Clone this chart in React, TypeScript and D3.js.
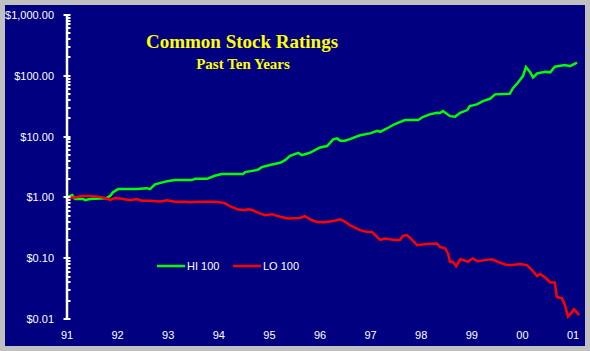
import { useEffect, useRef } from "react";
import * as d3 from "d3";

// HI 100 series (decimal year, value in $)
const HI_YEARS = [
  1991.0, 1991.1, 1991.16, 1991.32, 1991.36, 1991.45, 1991.65, 1991.77, 1991.85, 1991.91,
  1992.01, 1992.38, 1992.58, 1992.64, 1992.74, 1992.98, 1993.13, 1993.47, 1993.53, 1993.77,
  1993.92, 1994.06, 1994.48, 1994.52, 1994.77, 1994.85, 1995.01, 1995.21, 1995.31, 1995.41,
  1995.57, 1995.64, 1995.8, 1995.9, 1996.0, 1996.14, 1996.26, 1996.34, 1996.4, 1996.49,
  1996.59, 1996.79, 1996.99, 1997.13, 1997.19, 1997.32, 1997.48, 1997.68, 1997.94, 1998.04,
  1998.17, 1998.31, 1998.37, 1998.43, 1998.57, 1998.67, 1998.77, 1998.91, 1998.96, 1999.1,
  1999.22, 1999.36, 1999.46, 1999.75, 1999.81, 1999.91, 2000.01, 2000.07, 2000.15, 2000.21,
  2000.29, 2000.45, 2000.55, 2000.64, 2000.84, 2000.94, 2001.08,
];
const HI_VALUES = [
  1.0, 1.09, 0.94, 0.94, 0.9, 0.94, 0.96, 0.97, 1.05, 1.22,
  1.37, 1.38, 1.42, 1.37, 1.64, 1.85, 1.93, 1.93, 2.02, 2.02,
  2.27, 2.42, 2.42, 2.61, 2.84, 3.15, 3.4, 3.71, 4.1, 4.83,
  5.42, 4.96, 5.42, 6.0, 6.64, 6.98, 9.0, 9.34, 8.53, 8.53,
  9.1, 10.5, 11.3, 12.5, 12.0, 13.6, 16.1, 18.7, 18.7, 21.2,
  23.2, 24.6, 24.4, 26.3, 21.7, 21.2, 24.6, 27.3, 31.8, 33.9,
  38.4, 41.9, 49.5, 50.6, 62.1, 76.7, 98.9, 139, 116, 94.2,
  109, 116, 114, 141, 150, 144, 164,
];

// LO 100 series (decimal year, value in $)
const LO_YEARS = [
  1991.0, 1991.16, 1991.3, 1991.45, 1991.65, 1991.79, 1991.85, 1991.95, 1992.09, 1992.25,
  1992.38, 1992.48, 1992.64, 1992.84, 1992.98, 1993.13, 1993.33, 1993.43, 1993.63, 1993.92,
  1994.02, 1994.12, 1994.22, 1994.38, 1994.52, 1994.58, 1994.66, 1994.81, 1994.91, 1995.05,
  1995.21, 1995.37, 1995.6, 1995.7, 1995.84, 1995.96, 1996.1, 1996.26, 1996.4, 1996.49,
  1996.59, 1996.79, 1996.93, 1997.03, 1997.09, 1997.19, 1997.28, 1997.48, 1997.58, 1997.64,
  1997.72, 1997.84, 1997.92, 1998.11, 1998.31, 1998.37, 1998.47, 1998.53, 1998.57, 1998.63,
  1998.69, 1998.77, 1998.87, 1998.92, 1999.02, 1999.12, 1999.26, 1999.4, 1999.56, 1999.7,
  1999.81, 1999.95, 2000.09, 2000.19, 2000.29, 2000.35, 2000.45, 2000.55, 2000.64, 2000.68,
  2000.78, 2000.84, 2000.9, 2000.96, 2001.02, 2001.08, 2001.12,
];
const LO_VALUES = [
  1.0, 1.0, 1.05, 1.05, 1.02, 0.96, 0.9, 0.98, 0.95, 0.9,
  0.94, 0.88, 0.88, 0.86, 0.9, 0.85, 0.85, 0.83, 0.85, 0.85,
  0.83, 0.8, 0.72, 0.63, 0.62, 0.64, 0.62, 0.545, 0.51, 0.53,
  0.48, 0.45, 0.46, 0.49, 0.42, 0.39, 0.39, 0.41, 0.435, 0.4,
  0.35, 0.29, 0.27, 0.27, 0.24, 0.2, 0.21, 0.2, 0.2, 0.233,
  0.24, 0.193, 0.164, 0.171, 0.175, 0.154, 0.145, 0.12, 0.087, 0.087,
  0.074, 0.096, 0.091, 0.087, 0.099, 0.089, 0.093, 0.096, 0.084, 0.077,
  0.077, 0.08, 0.077, 0.064, 0.051, 0.055, 0.048, 0.04, 0.04, 0.023,
  0.022, 0.017, 0.011, 0.0124, 0.0145, 0.0127, 0.0116,
];

const Y_TICKS = [0.01, 0.1, 1, 10, 100, 1000];
const X_TICKS = [1991, 1992, 1993, 1994, 1995, 1996, 1997, 1998, 1999, 2000, 2001];
const X_LABELS = ["91", "92", "93", "94", "95", "96", "97", "98", "99", "00", "01"];

const SERIES = [
  { name: "HI 100", years: HI_YEARS, values: HI_VALUES, color: "#00ff00" },
  { name: "LO 100", years: LO_YEARS, values: LO_VALUES, color: "#ff0000" },
];

const W = 590;
const H = 351;
const FONT = "Arial, 'Liberation Sans', sans-serif";

export default function App() {
  const svgRef = useRef<SVGSVGElement>(null);

  useEffect(() => {
    if (!svgRef.current) return;
    const svg = d3.select(svgRef.current);
    svg.selectAll("*").remove();

    // frame
    svg.append("rect").attr("width", W).attr("height", H).attr("fill", "#c0c0c0");
    svg.append("rect").attr("x", 5).attr("y", 5).attr("width", 580).attr("height", 341).attr("fill", "#000080");

    const x = d3.scaleLinear().domain([1991, 2001]).range([67, 573]);
    const y = d3.scaleLog().domain([0.01, 1000]).range([319, 15]);

    // lines
    SERIES.forEach((s) => {
      const pts = s.years.map((yr, i) => [yr, s.values[i]] as [number, number]);
      const line = d3.line<[number, number]>()
        .x((d) => x(d[0]))
        .y((d) => y(d[1]));
      svg.append("path")
        .datum(pts)
        .attr("d", line)
        .attr("fill", "none")
        .attr("stroke", s.color)
        .attr("stroke-width", 2.5)
        .attr("stroke-linejoin", "miter");
    });

    // y axis
    const axis = svg.append("g");
    axis.append("line")
      .attr("x1", 67).attr("x2", 67)
      .attr("y1", y(1000)).attr("y2", y(0.01))
      .attr("stroke", "#fff").attr("stroke-width", 2.5);

    const minor: number[] = [];
    Y_TICKS.slice(0, -1).forEach((t) => {
      for (let k = 2; k <= 9; k++) minor.push(t * k);
    });
    axis.selectAll("line.minor")
      .data(minor)
      .join("line")
      .attr("class", "minor")
      .attr("x1", 67).attr("x2", 70.5)
      .attr("y1", (d) => Math.round(y(d)))
      .attr("y2", (d) => Math.round(y(d)))
      .attr("stroke", "#fff").attr("stroke-width", 2);

    axis.selectAll("line.major")
      .data(Y_TICKS)
      .join("line")
      .attr("class", "major")
      .attr("x1", 63.5).attr("x2", 70.5)
      .attr("y1", (d) => Math.round(y(d)))
      .attr("y2", (d) => Math.round(y(d)))
      .attr("stroke", "#fff").attr("stroke-width", 2);

    const fmt = d3.format("$,.2f");
    axis.selectAll("text.ylab")
      .data(Y_TICKS)
      .join("text")
      .attr("class", "ylab")
      .attr("x", 54)
      .attr("y", (d) => y(d) + 4)
      .attr("text-anchor", "end")
      .attr("font-family", FONT)
      .attr("font-size", 11)
      .attr("fill", "#fff")
      .text((d) => fmt(d));

    // x labels
    svg.append("g")
      .selectAll("text")
      .data(X_TICKS)
      .join("text")
      .attr("x", (d) => x(d))
      .attr("y", 339)
      .attr("text-anchor", "middle")
      .attr("font-family", FONT)
      .attr("font-size", 11)
      .attr("fill", "#fff")
      .text((_, i) => X_LABELS[i]);

    // title
    svg.append("text")
      .attr("x", 242).attr("y", 48)
      .attr("text-anchor", "middle")
      .attr("font-family", "'Times New Roman', 'Liberation Serif', serif")
      .attr("font-weight", "bold")
      .attr("font-size", 19)
      .attr("fill", "#ffff00")
      .text("Common Stock Ratings");
    svg.append("text")
      .attr("x", 243).attr("y", 69)
      .attr("text-anchor", "middle")
      .attr("font-family", "'Times New Roman', 'Liberation Serif', serif")
      .attr("font-weight", "bold")
      .attr("font-size", 15)
      .attr("fill", "#ffff00")
      .text("Past Ten Years");

    // legend
    const legend = svg.append("g").attr("transform", "translate(157,266)");
    SERIES.forEach((s, i) => {
      const lg = legend.append("g").attr("transform", `translate(${i * 76},0)`);
      lg.append("line")
        .attr("x1", 0).attr("x2", 28)
        .attr("stroke", s.color).attr("stroke-width", 2.5);
      lg.append("text")
        .attr("x", 30).attr("y", 4)
        .attr("font-family", FONT)
        .attr("font-size", 11)
        .attr("fill", "#fff")
        .text(s.name);
    });
  }, []);

  return (
    <svg
      ref={svgRef}
      width={W}
      height={H}
      style={{ position: "fixed", left: 0, top: 0, display: "block" }}
    />
  );
}
